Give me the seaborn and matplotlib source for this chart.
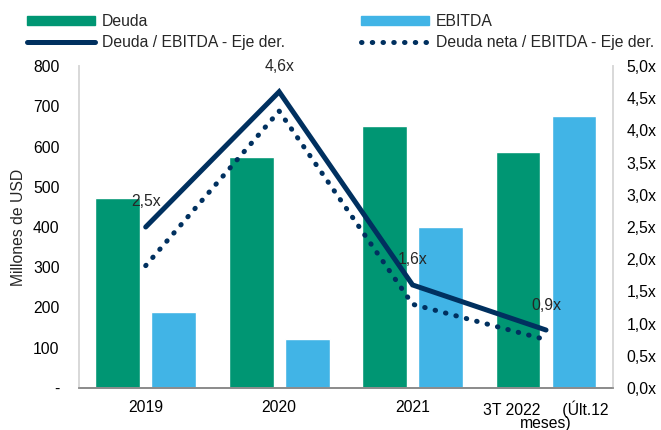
import numpy as np
import pandas as pd
import seaborn as sns
import matplotlib.pyplot as plt
from matplotlib.ticker import FuncFormatter, MultipleLocator
from matplotlib.lines import Line2D
from matplotlib.patches import Patch

periodos = ["2019", "2020", "2021", "3T 2022     (Últ.12\nmeses)"]
deuda = [471, 573, 651, 586]
ebitda = [189, 122, 401, 675]
deuda_ebitda = [2.5, 4.6, 1.6, 0.9]
deuda_neta_ebitda = [1.9, 4.3, 1.3, 0.75]

VERDE = "#009673"
CELESTE = "#41b4e6"
AZUL = "#00305f"
FS = 11.3
PUNTOS = (0, (0.1, 2.05))

sns.set_theme(style="white")
plt.rcParams["font.family"] = ["Liberation Sans", "DejaVu Sans"]
plt.rcParams["font.size"] = FS

df = pd.DataFrame({
    "periodo": periodos * 2,
    "valor": deuda + ebitda,
    "serie": ["Deuda"] * len(periodos) + ["EBITDA"] * len(periodos),
})

fig = plt.figure(figsize=(6.61, 4.30), dpi=100)
ax = fig.add_axes([0.1195, 0.0977, 0.8075, 0.7488])

sns.barplot(data=df, x="periodo", y="valor", hue="serie", order=periodos,
            palette={"Deuda": VERDE, "EBITDA": CELESTE}, width=0.84, gap=0.2,
            saturation=1, legend=False, ax=ax)
ax.set_xlim(-0.5, len(periodos) - 0.5)
ax.set_ylim(0, 800)
ax.yaxis.set_major_locator(MultipleLocator(100))
ax.yaxis.set_major_formatter(FuncFormatter(lambda v, p: "-" if v == 0 else f"{v:.0f}"))
ax.set_xlabel("")
ax.set_ylabel("Millones de USD", fontsize=FS, labelpad=5)
ax.tick_params(axis="y", length=0, pad=14, labelsize=FS, colors="black")
ax.tick_params(axis="x", length=0, pad=9, labelsize=FS, colors="black")
for t in ax.get_xticklabels():
    t.set_linespacing(0.85)

ax2 = ax.twinx()
x = np.arange(len(periodos))
sns.lineplot(x=x, y=deuda_ebitda, ax=ax2, color=AZUL, lw=3.6,
             solid_capstyle="round", solid_joinstyle="miter")
sns.lineplot(x=x, y=deuda_neta_ebitda, ax=ax2, color=AZUL, lw=3.6,
             linestyle=PUNTOS, dash_capstyle="round")
ax2.set_ylim(0, 5)
ax2.yaxis.set_major_locator(MultipleLocator(0.5))
ax2.yaxis.set_major_formatter(FuncFormatter(lambda v, p: f"{v:.1f}x".replace(".", ",")))
ax2.tick_params(axis="y", length=0, pad=10, labelsize=FS, colors="black")

for i, v in enumerate(deuda_ebitda):
    ax2.annotate(f"{v:.1f}x".replace(".", ","), (i, v), xytext=(0, 18),
                 textcoords="offset points", ha="center", va="center", fontsize=FS)

for a in (ax, ax2):
    a.spines["top"].set_visible(False)
    a.spines["left"].set_color("#d9d9d9")
    a.spines["right"].set_color("#d9d9d9")
    a.spines["bottom"].set_color("#8c8c8c")
    a.grid(False)

handles = [
    Patch(color=VERDE, label="Deuda"),
    Line2D([], [], color=AZUL, lw=3.6, solid_capstyle="round", label="Deuda / EBITDA - Eje der."),
    Patch(color=CELESTE, label="EBITDA"),
    Line2D([], [], color=AZUL, lw=3.6, linestyle=PUNTOS, dash_capstyle="round",
           label="Deuda neta / EBITDA - Eje der."),
]
fig.legend(handles=handles, ncol=2, loc="upper left",
           bbox_to_anchor=(27 / 661, 1 - 14 / 430), frameon=False,
           handlelength=4.33, handleheight=0.55, handletextpad=0.45,
           columnspacing=4.85, labelspacing=0.4, fontsize=FS,
           borderpad=0, borderaxespad=0)

fig.savefig("out.png", dpi=100)
